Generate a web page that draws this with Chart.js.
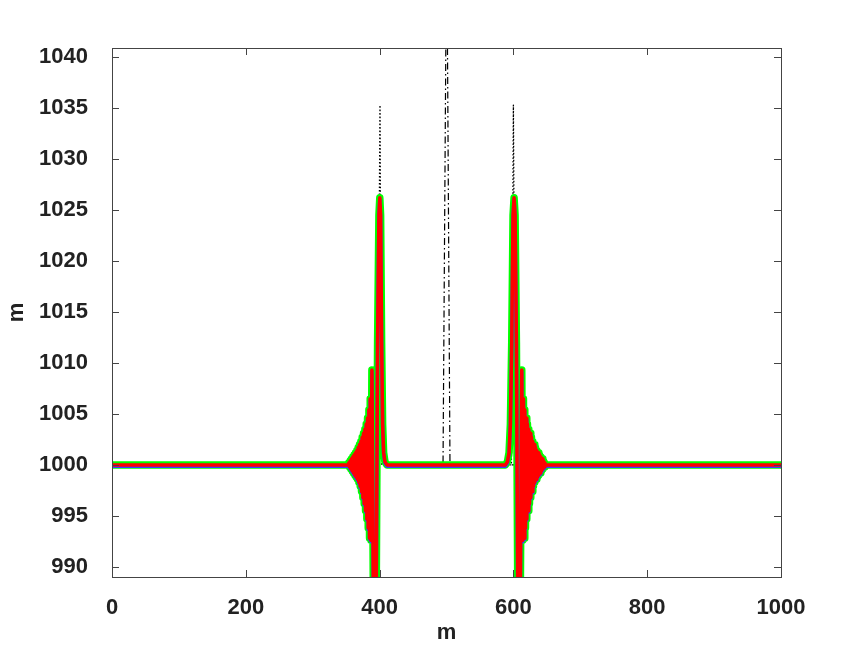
<!DOCTYPE html>
<html>
<head>
<meta charset="utf-8">
<script src="https://cdn.jsdelivr.net/npm/chart.js@4/dist/chart.umd.min.js"></script>
<style>
  html, body { margin: 0; padding: 0; background: #fff; }
  #wrap { width: 863px; height: 650px; }
</style>
</head>
<body>
<div id="wrap"><canvas id="chart" width="863" height="650"></canvas></div>
<script>
// -----------------------------------------------------------------------------
// Data
// -----------------------------------------------------------------------------

const xTicks = [0, 200, 400, 600, 800, 1000];
const yTicks = [990, 995, 1000, 1005, 1010, 1015, 1020, 1025, 1030, 1035, 1040];

// wave profile: two pulses with a dispersive tail on their outer side
const waveX = [
  0, 350, 353,
  354, 355, 356, 357, 358, 359, 360, 361, 362, 363, 364, 365, 366, 367, 368, 369,
  370, 371, 372, 373, 374, 375, 376, 377, 378, 379, 380, 381, 382, 383, 384, 385,
  386, 387, 388.5, 390.5, 392.5, 395, 397, 399, 400.3, 401.5, 403, 404.5, 406, 408, 411,
  588, 591, 593.5, 595.5, 597.5, 599.5, 601, 602.5, 604.5, 606.5, 608.5, 610.5, 612.5,
  614, 615, 616, 617, 618, 619, 620, 621, 622, 623, 624, 625, 626, 627, 628, 629,
  630, 631, 632, 633, 634, 635, 636, 637, 638, 639, 640, 641, 642, 643, 644, 645,
  646, 647, 648, 1000
];
const redY = [
  1000, 1000, 1000,
  1000.2, 999.8, 1000.4, 999.6, 1000.6, 999.4, 1000.8, 999.2, 1001.0, 999.0, 1001.2, 998.8, 1001.4, 998.6, 1001.7, 998.3,
  1002.0, 997.9, 1002.3, 997.4, 1002.7, 996.8, 1003.1, 996.2, 1003.5, 995.5, 1004.0, 994.7, 1004.6, 993.8, 1005.4, 992.8,
  1006.5, 992.6, 1009.3, 989, 972, 988, 1012, 1024.5, 1026.2, 1024.5, 1012, 1004, 1001.2, 1000.3, 1000,
  1000, 1000.3, 1001.2, 1004, 1012, 1024.5, 1026.2, 1024.5, 1012, 988, 972, 989, 1009.3,
  992.6, 1006.5, 992.8, 1005.4, 993.8, 1004.6, 994.7, 1004.0, 995.5, 1003.5, 996.2, 1003.1, 996.8, 1002.7, 997.4, 1002.3,
  997.9, 1002.0, 998.3, 1001.7, 998.6, 1001.4, 998.8, 1001.2, 999.0, 1001.0, 999.2, 1000.8, 999.4, 1000.6, 999.6, 1000.4,
  999.8, 1000.2, 1000, 1000
];
const greenY = redY.slice();
// blue sits a hair lower than red on the flat parts
const blueY = redY.map(v => v - 0.13);

// narrow tall dotted spikes above each pulse
const dottedX = [0, 397, 400.6, 403, 597, 600, 603, 1000];
const dottedY = [1000, 1000, 1035.3, 1000, 1000, 1035.3, 1000, 1000];

// dash-dot spike in the middle, going off the top
const dashDotX = [0, 494.8, 500.3, 505.2, 1000];
const dashDotY = [1000, 1000, 1054, 1000, 1000];

// -----------------------------------------------------------------------------
// Helpers
// -----------------------------------------------------------------------------

const toPoints = (xs, ys) => xs.map((x, i) => ({ x, y: ys[i] }));

const FONT = { family: '"Liberation Sans", Arial, sans-serif', size: 22, weight: 'bold' };
const TEXT_COLOR = '#222';
const FRAME_COLOR = '#444';

function lineDataset(label, xs, ys, color, width, order, dash) {
  return {
    label,
    data: toPoints(xs, ys),
    borderColor: color,
    backgroundColor: color,
    borderWidth: width,
    borderDash: dash || [],
    borderJoinStyle: 'round',
    pointRadius: 0,
    tension: 0,
    fill: false,
    order
  };
}

// frame + inward ticks on all four sides (gnuplot look)
const framePlugin = {
  id: 'frame',
  afterDraw(chart) {
    const { ctx, chartArea: a, scales } = chart;
    const len = 7;
    ctx.save();
    ctx.strokeStyle = FRAME_COLOR;
    ctx.lineWidth = 1;
    ctx.strokeRect(a.left + 0.5, a.top + 0.5, a.right - a.left, a.bottom - a.top);
    ctx.beginPath();
    scales.x.ticks.forEach(t => {
      const px = Math.round(scales.x.getPixelForValue(t.value)) + 0.5;
      ctx.moveTo(px, a.bottom); ctx.lineTo(px, a.bottom - len);
      ctx.moveTo(px, a.top); ctx.lineTo(px, a.top + len);
    });
    scales.y.ticks.forEach(t => {
      const py = Math.round(scales.y.getPixelForValue(t.value)) + 0.5;
      ctx.moveTo(a.left, py); ctx.lineTo(a.left + len, py);
      ctx.moveTo(a.right, py); ctx.lineTo(a.right - len, py);
    });
    ctx.stroke();
    ctx.restore();
  }
};

// -----------------------------------------------------------------------------
// Chart
// -----------------------------------------------------------------------------

new Chart(document.getElementById('chart').getContext('2d'), {
  type: 'line',
  data: {
    datasets: [
      lineDataset('red', waveX, redY, '#ff0000', 3.5, 0),
      lineDataset('blue', waveX, blueY, '#3b3bff', 3.5, 1),
      lineDataset('green', waveX, greenY, '#00ff00', 7.5, 2),
      lineDataset('dotted', dottedX, dottedY, '#000000', 1.3, 3, [1.5, 2]),
      lineDataset('dashdot', dashDotX, dashDotY, '#000000', 1.2, 4, [7, 3, 1.5, 3])
    ]
  },
  options: {
    responsive: false,
    animation: false,
    devicePixelRatio: 1,
    layout: { padding: { top: 48, right: 82, bottom: 0, left: 0 } },
    plugins: {
      legend: { display: false },
      tooltip: { enabled: false }
    },
    scales: {
      x: {
        type: 'linear',
        min: 0,
        max: 1000,
        afterBuildTicks: s => { s.ticks = xTicks.map(v => ({ value: v })); },
        afterFit: s => { s.height = 73; },
        grid: { display: false, drawTicks: false },
        border: { display: false },
        ticks: { font: FONT, color: TEXT_COLOR, padding: 18, maxRotation: 0, callback: v => String(v) },
        title: { display: true, text: 'm', font: FONT, color: TEXT_COLOR, padding: { top: 0, bottom: 4 } }
      },
      y: {
        type: 'linear',
        min: 989,
        max: 1040.9,
        afterBuildTicks: s => { s.ticks = yTicks.map(v => ({ value: v })); },
        afterFit: s => { s.width = 112; },
        grid: { display: false, drawTicks: false },
        border: { display: false },
        ticks: { font: FONT, color: TEXT_COLOR, padding: 24, callback: v => String(v) },
        title: { display: true, text: 'm', font: FONT, color: TEXT_COLOR, padding: { top: 4, bottom: 0 } }
      }
    }
  },
  plugins: [framePlugin]
});
</script>
</body>
</html>
